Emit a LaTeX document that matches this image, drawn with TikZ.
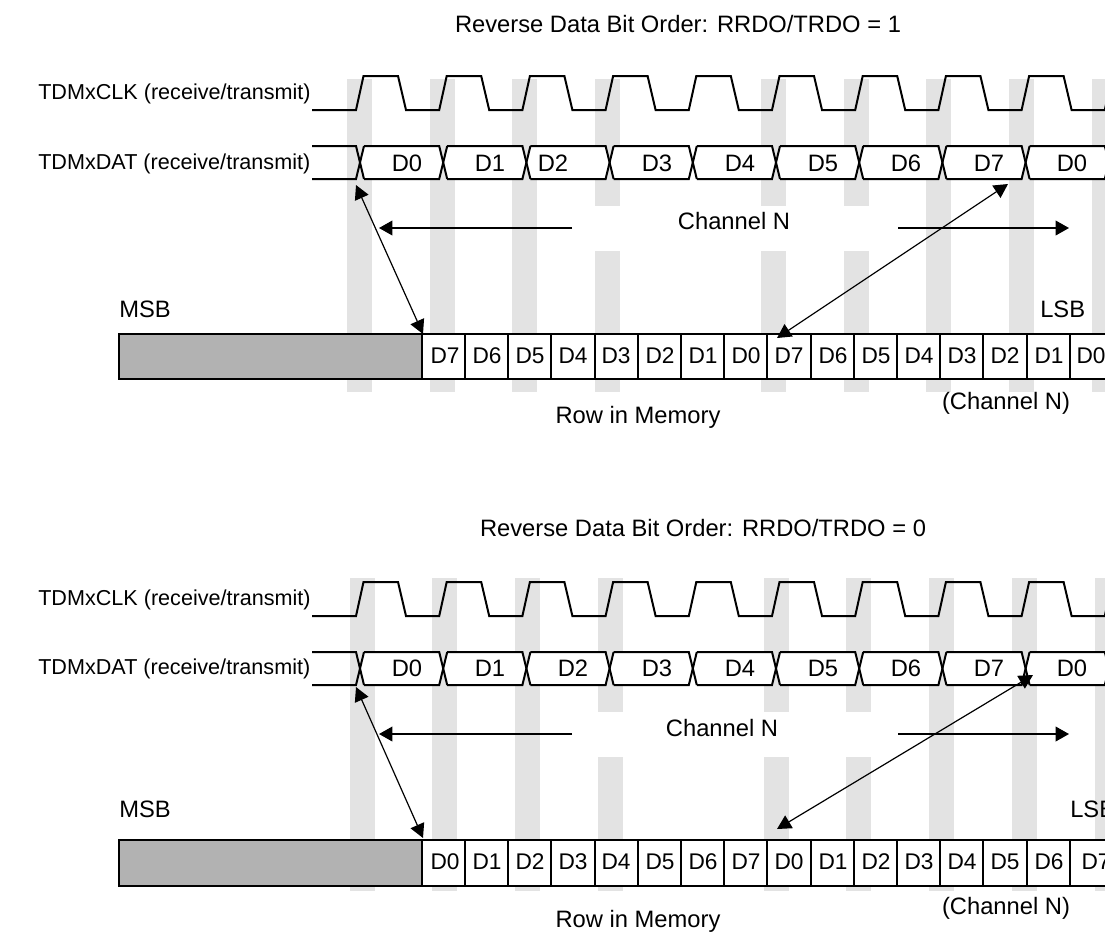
\documentclass[tikz,border=0pt]{standalone}
\usepackage{fontspec}
\setmainfont{Liberation Sans}
\usetikzlibrary{arrows.meta}
\definecolor{barc}{gray}{0.89}
\definecolor{boxc}{gray}{0.70}
\tikzset{
  x=0.75pt,y=-0.75pt,
  bar/.style={fill=barc,draw=none},
  sig/.style={draw=black,line width=1.5pt,line join=miter},
  link/.style={draw=black,line width=0.9pt,{Triangle[length=10.5pt,width=11pt]}-{Triangle[length=10.5pt,width=11pt]}},
  span/.style={draw=black,line width=1.1pt,-{Triangle[length=10pt,width=11pt]}},
  txt/.style={font=\fontsize{17.8pt}{20pt}\selectfont,inner sep=0pt,anchor=center},
  lbl/.style={font=\fontsize{16.2pt}{20pt}\selectfont,inner sep=0pt,anchor=west},
  cellt/.style={font=\fontsize{17pt}{20pt}\selectfont,inner sep=0pt,anchor=center},
  lft/.style={txt,anchor=west},
}
\begin{document}
\begin{tikzpicture}
\useasboundingbox (0,0) rectangle (1105,933);
\clip (0,0) rectangle (1105,933);
\fill[white] (0,0) rectangle (1105,933);

% ---- upper diagram bars ----
\foreach \x in {347,430,512,595,761,844,926,1009,1092}
  \path[bar] (\x,79) rectangle ++(25,313);
\fill[white] (572,206) rectangle (898,251);
% ---- lower diagram bars ----
\foreach \x in {350,432,515,598,764,846,929,1012,1095}
  \path[bar] (\x,578) rectangle ++(25,313);
\fill[white] (572,712) rectangle (898,757);

% signals
\foreach \yh/\yl/\yt/\yb in {76/110/146/179,582/616/652/685}{
  \draw[sig] (312,\yl) -- (356,\yl)
    \foreach \i in {0,...,8}{
      -- ({356+83.2*\i+7.5},\yh) -- ({356+83.2*\i+42},\yh)
      -- ({356+83.2*\i+50},\yl) -- ({356+83.2*\i+83.2},\yl)
    } -- (1112,\yh);
  \foreach \i in {0,...,8}{
    \pgfmathsetmacro{\xa}{364+83.2*\i}
    \pgfmathsetmacro{\xb}{\xa+75.2}
    \fill[white] (\xa,\yt) -- (\xb,\yt) -- ({\xb+4},{(\yt+\yb)/2}) -- (\xb,\yb) -- (\xa,\yb) -- ({\xa-4},{(\yt+\yb)/2}) -- cycle;
  }
  \draw[sig] (312,\yt) -- (356,\yt) -- (364,\yb);
  \draw[sig] (312,\yb) -- (356,\yb) -- (364,\yt);
  \foreach \i in {0,...,8}{
    \pgfmathsetmacro{\xa}{364+83.2*\i}
    \pgfmathsetmacro{\xb}{\xa+75.2}
    \pgfmathsetmacro{\xc}{\xb+8}
    \draw[sig] (\xa,\yt) -- (\xb,\yt) -- (\xc,\yb);
    \draw[sig] (\xa,\yb) -- (\xb,\yb) -- (\xc,\yt);
  }
}

% memory boxes
\foreach \yt/\yb in {334/379,840/886}{
  \fill[white] (422,\yt) rectangle (1110,\yb);
  \fill[boxc] (119,\yt) rectangle (422,\yb);
  \draw[sig] (1110,\yt) -- (119,\yt) -- (119,\yb) -- (1110,\yb);
  \foreach \x in {422,465,508,551,595,638,681,724,767,811,854,897,940,983,1027,1070}
    \draw[sig] (\x,\yt) -- (\x,\yb);
}

% upper texts
\node[txt] (t1) at (678,24) {Reverse Data Bit Order: RRDO/TRDO = 1};
\node[lbl] (clk1) at (38,94) {TDMxCLK (receive/transmit)};
\node[lbl] (dat1) at (38,164) {TDMxDAT (receive/transmit)};
\foreach \x/\t [count=\n] in {407/D0,490/D1,553/D2,657/D3,740/D4,823/D5,906/D6,989/D7,1072/D0}
  \node[txt] (ua\n) at (\x,163) {\t};
\node[txt] (ch1) at (734,221) {Channel N};
\node[lft] (msb1) at (119,309) {MSB};
\node[lft] (lsb1) at (1040,309) {LSB};
\foreach \x/\t [count=\n] in {445/D7,487/D6,530/D5,573/D4,616/D3,660/D2,703/D1,746/D0,789/D7,833/D6,876/D5,919/D4,962/D3,1005/D2,1049/D1,1091/D0}
  \node[cellt] (um\n) at (\x,356) {\t};
\node[txt] (row1) at (638,417) {Row in Memory};
\node[txt] (cn1) at (1006,403) {(Channel N)};

% lower texts
\node[txt] (t2) at (703,528) {Reverse Data Bit Order: RRDO/TRDO = 0};
\node[lbl] (clk2) at (38,600) {TDMxCLK (receive/transmit)};
\node[lbl] (dat2) at (38,669) {TDMxDAT (receive/transmit)};
\foreach \x/\t [count=\n] in {407/D0,490/D1,573/D2,657/D3,740/D4,823/D5,906/D6,989/D7,1072/D0}
  \node[txt] (la\n) at (\x,668) {\t};
\node[txt] (ch2) at (722,728) {Channel N};
\node[lft] (msb2) at (119,809) {MSB};
\node[lft] (lsb2) at (1070,809) {LSB};
\foreach \x/\t [count=\n] in {445/D0,487/D1,530/D2,573/D3,616/D4,660/D5,703/D6,746/D7,789/D0,833/D1,876/D2,919/D3,962/D4,1005/D5,1049/D6,1096/D7}
  \node[cellt] (lm\n) at (\x,862) {\t};
\node[txt] (row2) at (638,921) {Row in Memory};
\node[txt] (cn2) at (1006,908) {(Channel N)};

% connector ends
\coordinate (a1) at (356,185);
\coordinate (a2) at (423,334);
\coordinate (b1) at (1008,184);
\coordinate (b2) at (777,338);
\coordinate (c1) at (572,228);
\coordinate (c2) at (379,228);
\coordinate (d1) at (898,228);
\coordinate (d2) at (1069,228);
\coordinate (e1) at (356,687);
\coordinate (e2) at (423,838);
\coordinate (f1) at (1033,675);
\coordinate (f2) at (777,829);
\coordinate (g1) at (572,734);
\coordinate (g2) at (379,734);
\coordinate (h1) at (898,734);
\coordinate (h2) at (1069,734);

\draw[link] (a1) -- (a2);
\draw[link] (b1) -- (b2);
\draw[span] (c1) -- (c2);
\draw[span] (d1) -- (d2);
\draw[link] (e1) -- (e2);
\draw[link] (f1) -- (f2);
\draw[span] (g1) -- (g2);
\draw[span] (h1) -- (h2);
\end{tikzpicture}
\end{document}
